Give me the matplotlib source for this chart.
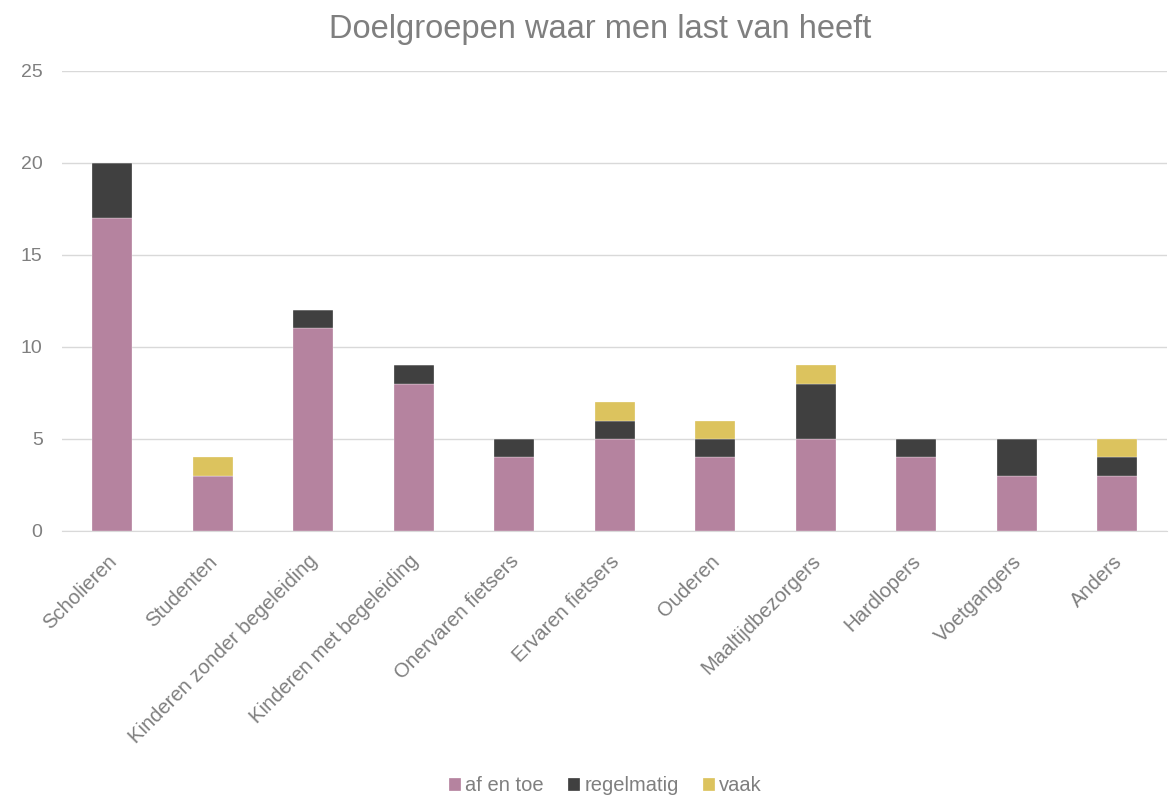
import numpy as np
import matplotlib.pyplot as plt
from matplotlib.transforms import ScaledTranslation

plt.rcParams['font.family'] = ['Liberation Sans', 'DejaVu Sans']

groepen = ['Scholieren', 'Studenten', 'Kinderen zonder begeleiding',
           'Kinderen met begeleiding', 'Onervaren fietsers', 'Ervaren fietsers',
           'Ouderen', 'Maaltijdbezorgers', 'Hardlopers', 'Voetgangers', 'Anders']
af_en_toe = [17, 3, 11, 8, 4, 5, 4, 5, 4, 3, 3]
regelmatig = [3, 0, 1, 1, 1, 1, 1, 3, 1, 2, 1]
vaak = [0, 1, 0, 0, 0, 1, 1, 1, 0, 0, 1]

text_grey = '#7f7f7f'
kleuren = ['#b5839f', '#404040', '#dcc35e']


def main():
    fig = plt.figure(figsize=(11.71, 7.96), dpi=100)
    ax = fig.add_axes([0.053, 0.333, 0.944, 0.578])

    x = np.arange(len(groepen))
    a = np.array(af_en_toe)
    r = np.array(regelmatig)
    v = np.array(vaak)
    w = 0.4
    ax.bar(x, a, w, color=kleuren[0], label='af en toe', zorder=3,
           edgecolor='white', linewidth=0.2)
    ax.bar(x, r, w, bottom=a, color=kleuren[1], label='regelmatig', zorder=3,
           edgecolor='white', linewidth=0.2)
    ax.bar(x, v, w, bottom=a + r, color=kleuren[2], label='vaak', zorder=3,
           edgecolor='white', linewidth=0.2)

    ax.set_xlim(-0.5, len(groepen) - 0.5)
    ax.set_ylim(0, 25)
    ax.set_yticks(range(0, 26, 5))
    ax.yaxis.grid(True, color='#d9d9d9', linewidth=1, zorder=0)
    for s in ['top', 'right', 'left']:
        ax.spines[s].set_visible(False)
    ax.spines['bottom'].set_color('#d9d9d9')
    ax.tick_params(axis='both', length=0, colors=text_grey, labelsize=14)
    ax.tick_params(axis='y', pad=14)
    ax.tick_params(axis='x', pad=15, labelsize=14.6)
    ax.set_xticks(x)
    ax.set_xticklabels(groepen, rotation=45, ha='right', rotation_mode='anchor')
    # nudge rotated labels a bit to the left
    shift = ScaledTranslation(-0.05, 0, fig.dpi_scale_trans)
    for lbl in ax.get_xticklabels():
        lbl.set_transform(lbl.get_transform() + shift)

    ax.set_title('Doelgroepen waar men last van heeft', color=text_grey,
                 fontsize=23.5, pad=24, x=0.487)

    fig.legend(loc='lower center', bbox_to_anchor=(0.517, -0.022), ncol=3,
               frameon=False, fontsize=14.5, labelcolor=text_grey,
               handlelength=0.6, handleheight=0.6, handletextpad=0.2,
               columnspacing=1.2)

    fig.savefig('out.png', dpi=100)


if __name__ == '__main__':
    main()
